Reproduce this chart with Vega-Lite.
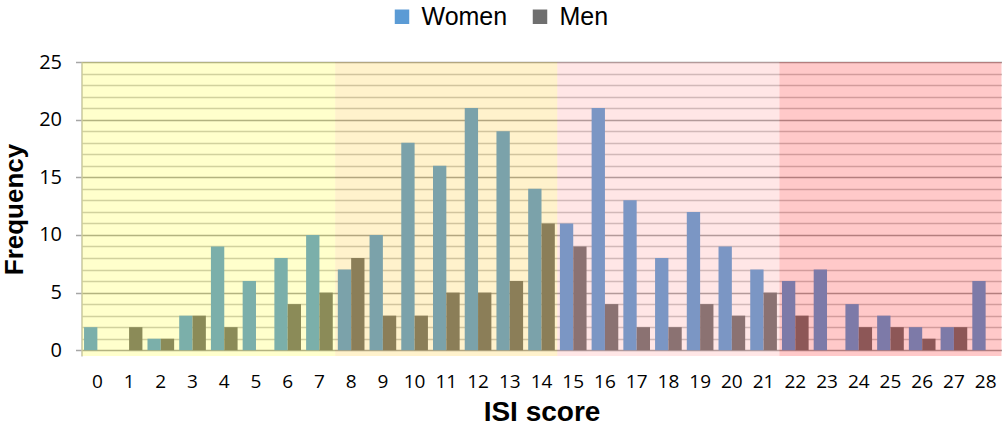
{
  "$schema": "https://vega.github.io/schema/vega-lite/v6.json",
  "width": 920,
  "height": 294,
  "autosize": "none",
  "padding": {"left": 81.5, "top": 62, "right": 3.5, "bottom": 75},
  "background": "white",
  "config": {
    "view": {"stroke": null},
    "axis": {"labelFont": "Open Sans", "labelColor": "#000000", "titleColor": "#000000"}
  },
  "datasets": {
    "freq": [
      {"score": 0, "sex": "Women", "n": 2}, {"score": 0, "sex": "Men", "n": 0},
      {"score": 1, "sex": "Women", "n": 0}, {"score": 1, "sex": "Men", "n": 2},
      {"score": 2, "sex": "Women", "n": 1}, {"score": 2, "sex": "Men", "n": 1},
      {"score": 3, "sex": "Women", "n": 3}, {"score": 3, "sex": "Men", "n": 3},
      {"score": 4, "sex": "Women", "n": 9}, {"score": 4, "sex": "Men", "n": 2},
      {"score": 5, "sex": "Women", "n": 6}, {"score": 5, "sex": "Men", "n": 0},
      {"score": 6, "sex": "Women", "n": 8}, {"score": 6, "sex": "Men", "n": 4},
      {"score": 7, "sex": "Women", "n": 10}, {"score": 7, "sex": "Men", "n": 5},
      {"score": 8, "sex": "Women", "n": 7}, {"score": 8, "sex": "Men", "n": 8},
      {"score": 9, "sex": "Women", "n": 10}, {"score": 9, "sex": "Men", "n": 3},
      {"score": 10, "sex": "Women", "n": 18}, {"score": 10, "sex": "Men", "n": 3},
      {"score": 11, "sex": "Women", "n": 16}, {"score": 11, "sex": "Men", "n": 5},
      {"score": 12, "sex": "Women", "n": 21}, {"score": 12, "sex": "Men", "n": 5},
      {"score": 13, "sex": "Women", "n": 19}, {"score": 13, "sex": "Men", "n": 6},
      {"score": 14, "sex": "Women", "n": 14}, {"score": 14, "sex": "Men", "n": 11},
      {"score": 15, "sex": "Women", "n": 11}, {"score": 15, "sex": "Men", "n": 9},
      {"score": 16, "sex": "Women", "n": 21}, {"score": 16, "sex": "Men", "n": 4},
      {"score": 17, "sex": "Women", "n": 13}, {"score": 17, "sex": "Men", "n": 2},
      {"score": 18, "sex": "Women", "n": 8}, {"score": 18, "sex": "Men", "n": 2},
      {"score": 19, "sex": "Women", "n": 12}, {"score": 19, "sex": "Men", "n": 4},
      {"score": 20, "sex": "Women", "n": 9}, {"score": 20, "sex": "Men", "n": 3},
      {"score": 21, "sex": "Women", "n": 7}, {"score": 21, "sex": "Men", "n": 5},
      {"score": 22, "sex": "Women", "n": 6}, {"score": 22, "sex": "Men", "n": 3},
      {"score": 23, "sex": "Women", "n": 7}, {"score": 23, "sex": "Men", "n": 0},
      {"score": 24, "sex": "Women", "n": 4}, {"score": 24, "sex": "Men", "n": 2},
      {"score": 25, "sex": "Women", "n": 3}, {"score": 25, "sex": "Men", "n": 2},
      {"score": 26, "sex": "Women", "n": 2}, {"score": 26, "sex": "Men", "n": 1},
      {"score": 27, "sex": "Women", "n": 2}, {"score": 27, "sex": "Men", "n": 2},
      {"score": 28, "sex": "Women", "n": 6}, {"score": 28, "sex": "Men", "n": 0}
    ],
    "bands": [
      {"band": "none", "from": 0, "to": 8},
      {"band": "subthreshold", "from": 8, "to": 15},
      {"band": "moderate", "from": 15, "to": 22},
      {"band": "severe", "from": 22, "to": 29}
    ]
  },
  "layer": [
    {
      "data": {"name": "freq"},
      "mark": {"type": "bar"},
      "encoding": {
        "x": {
          "field": "score",
          "type": "ordinal",
          "scale": {"paddingInner": 0.16, "paddingOuter": 0.08},
          "axis": {
            "title": "ISI score",
            "titleFont": "Liberation Sans",
            "titleFontSize": 28,
            "titleFontWeight": "bold",
            "titlePadding": 7,
            "labelAngle": 0,
            "labelFontSize": 19,
            "labelPadding": 16,
            "ticks": false,
            "domain": false,
            "grid": false
          }
        },
        "xOffset": {"field": "sex", "type": "nominal", "sort": ["Women", "Men"], "scale": {"paddingInner": 0}},
        "y": {
          "field": "n",
          "type": "quantitative",
          "scale": {"domain": [-0.5, 25], "nice": false, "zero": false},
          "axis": {
            "title": "Frequency",
            "titleFont": "Liberation Sans",
            "titleFontSize": 26,
            "titleFontWeight": "bold",
            "titlePadding": 11,
            "values": [0, 1, 2, 3, 4, 5, 6, 7, 8, 9, 10, 11, 12, 13, 14, 15, 16, 17, 18, 19, 20, 21, 22, 23, 24, 25],
            "tickCount": 26,
            "labelExpr": "datum.value % 5 === 0 ? datum.label : ''",
            "labelOverlap": false,
            "labelFontSize": 20,
            "labelPadding": 14,
            "domainColor": "#bfbfbf",
            "domainWidth": 1.5,
            "grid": true,
            "gridColor": {"condition": {"test": "datum.value % 5 === 0", "value": "#a0a0a0"}, "value": "#c6c6c6"},
            "gridWidth": 1.5,
            "tickSize": 6,
            "tickWidth": 1.5,
            "tickColor": "#a6a6a6",
            "tickOpacity": {"condition": {"test": "datum.value % 5 === 0", "value": 1}, "value": 0}
          }
        },
        "color": {
          "field": "sex",
          "type": "nominal",
          "scale": {"domain": ["Women", "Men"], "range": ["#5b9bd5", "#6f6f6f"]},
          "legend": {
            "title": null,
            "orient": "none",
            "direction": "horizontal",
            "legendX": 308,
            "legendY": -58,
            "symbolType": "square",
            "symbolSize": 210,
            "symbolStrokeWidth": 0,
            "labelFont": "Liberation Sans",
            "labelFontSize": 25,
            "labelColor": "#000000",
            "labelOffset": 7,
            "columnPadding": 20
          }
        }
      }
    },
    {
      "data": {"name": "bands"},
      "mark": {"type": "rect"},
      "encoding": {
        "x": {"field": "from", "type": "quantitative", "scale": {"domain": [0, 29], "nice": false, "zero": false}, "axis": null},
        "x2": {"field": "to"},
        "fill": {
          "field": "band",
          "type": "nominal",
          "scale": {
            "domain": ["none", "subthreshold", "moderate", "severe"],
            "range": ["rgba(255,255,0,0.2)", "rgba(255,192,0,0.2)", "rgba(255,128,128,0.2)", "rgba(255,0,0,0.21)"]
          },
          "legend": null
        }
      }
    },
    {
      "mark": {"type": "rule", "color": "#a6a6a6", "strokeWidth": 1.5},
      "encoding": {"y": {"datum": 0}}
    }
  ],
  "resolve": {"scale": {"x": "independent"}}
}
